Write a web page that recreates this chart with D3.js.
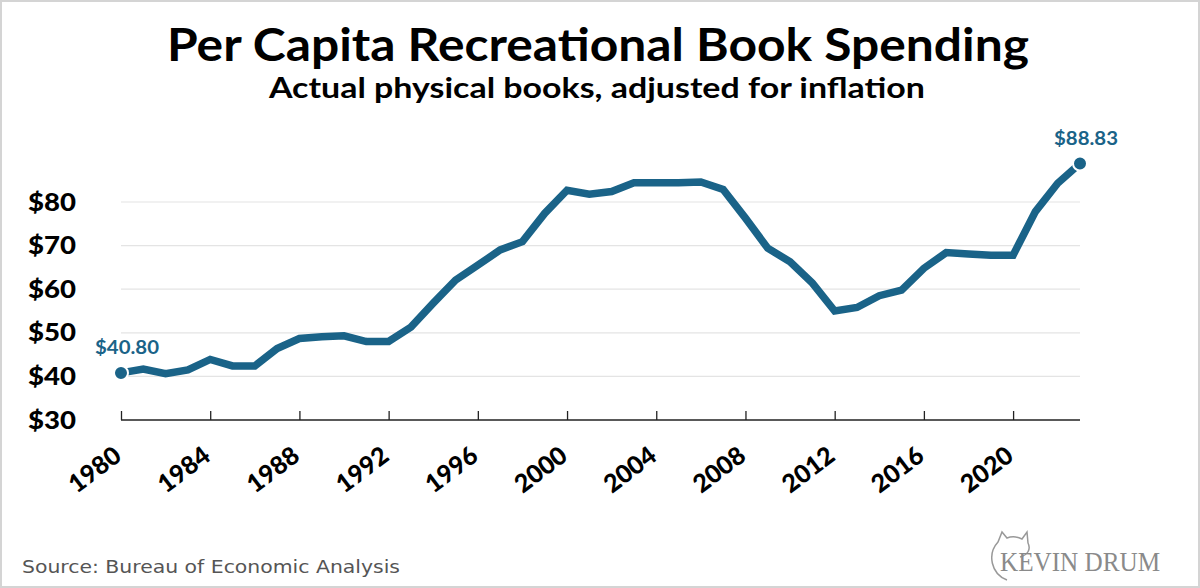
<!DOCTYPE html>
<html>
<head>
<meta charset="utf-8">
<script src="https://d3js.org/d3.v7.min.js"></script>
<style>
  body{margin:0;background:#fff;}
  svg text{font-family:"Lato","Noto Sans",sans-serif;}
</style>
</head>
<body>
<div id="chart"></div>
<script>

var years  = d3.range(1980, 2024);
var values = [
  40.80, 41.7, 40.6, 41.5, 43.9, 42.4, 42.4, 46.4, 48.7, 49.1,
  49.3, 48.0, 48.0, 51.3, 56.8, 62.1, 65.5, 69.0, 70.9, 77.4,
  82.7, 81.8, 82.4, 84.4, 84.4, 84.4, 84.6, 82.9, 76.3, 69.4,
  66.3, 61.4, 55.0, 55.8, 58.5, 59.8, 64.8, 68.4, 68.1, 67.8,
  67.8, 77.8, 84.3, 88.83
];
var yTicks = [30, 40, 50, 60, 70, 80];
var xTicks = [1980, 1984, 1988, 1992, 1996, 2000, 2004, 2008, 2012, 2016, 2020];

var title    = "Per Capita Recreational Book Spending";
var subtitle = "Actual physical books, adjusted for inflation";
var source   = "Source: Bureau of Economic Analysis";

var W = 1200, H = 588;
var lineColor = "#1a6388";

var svg = d3.select("#chart")
  .append("svg")
    .attr("width", W)
    .attr("height", H);

svg.append("rect")
  .attr("x", 1).attr("y", 1)
  .attr("width", W - 2).attr("height", H - 2)
  .attr("fill", "#fff")
  .attr("stroke", "#d4d4d4")
  .attr("stroke-width", 2);

// titles
svg.append("text")
  .attr("x", 598).attr("y", 61)
  .attr("text-anchor", "middle")
  .attr("font-size", 46)
  .attr("font-weight", 700)
  .attr("textLength", 862)
  .attr("lengthAdjust", "spacingAndGlyphs")
  .text(title);

svg.append("text")
  .attr("x", 597).attr("y", 98)
  .attr("text-anchor", "middle")
  .attr("font-size", 29)
  .attr("font-weight", 700)
  .attr("textLength", 656)
  .attr("lengthAdjust", "spacingAndGlyphs")
  .text(subtitle);

// scales
var x = d3.scaleLinear()
  .domain([1980, 2023])
  .range([121, 1080]);

var y = d3.scaleLinear()
  .domain([30, 80])
  .range([420, 202]);

// gridlines
svg.append("g")
  .attr("class", "grid")
  .selectAll("line")
  .data(yTicks.filter(function(d){return d > 30;}))
  .enter()
  .append("line")
    .attr("x1", x(1980))
    .attr("x2", x(2023))
    .attr("y1", function(d){return y(d);})
    .attr("y2", function(d){return y(d);})
    .attr("stroke", "#e4e4e4")
    .attr("stroke-width", 1.2);

// y labels
svg.append("g")
  .selectAll("text")
  .data(yTicks)
  .enter()
  .append("text")
    .attr("x", 76)
    .attr("y", function(d){return y(d);})
    .attr("dy", "0.36em")
    .attr("text-anchor", "end")
    .attr("font-size", 24)
    .attr("font-weight", 900)
    .attr("textLength", 48)
    .attr("lengthAdjust", "spacingAndGlyphs")
    .text(function(d){return "$" + d;});

// x axis
var xAxis = d3.axisTop(x)
  .tickValues(xTicks)
  .tickSize(9)
  .tickFormat("");

var gx = svg.append("g")
  .attr("transform", "translate(0," + y(30) + ")")
  .call(xAxis);
gx.select(".domain")
  .attr("d", "M" + x(1980) + ",0H" + x(2023))
  .attr("stroke", "#222")
  .attr("stroke-width", 1.5);
gx.selectAll(".tick line")
  .attr("stroke", "#222")
  .attr("stroke-width", 1.3);

svg.append("g")
  .selectAll("text")
  .data(xTicks)
  .enter()
  .append("text")
    .attr("transform", function(d){return "translate(" + (x(d) + 2) + "," + (y(30) + 39) + ") rotate(-37)";})
    .attr("text-anchor", "end")
    .attr("font-size", 25)
    .attr("font-weight", 900)
    .attr("textLength", 58)
    .attr("lengthAdjust", "spacingAndGlyphs")
    .text(function(d){return d;});

// line
var data = d3.zip(years, values);

var line = d3.line()
  .x(function(d){return x(d[0]);})
  .y(function(d){return y(d[1]);});

svg.append("path")
  .datum(data)
  .attr("d", line)
  .attr("fill", "none")
  .attr("stroke", lineColor)
  .attr("stroke-width", 7.5)
  .attr("stroke-linejoin", "miter");

// end points + labels
var ends = [data[0], data[data.length - 1]];

svg.append("g")
  .selectAll("circle")
  .data(ends)
  .enter()
  .append("circle")
    .attr("cx", function(d){return x(d[0]);})
    .attr("cy", function(d){return y(d[1]);})
    .attr("r", 7)
    .attr("fill", lineColor)
    .attr("stroke", "#fff")
    .attr("stroke-width", 2);

svg.append("g")
  .selectAll("text")
  .data(ends)
  .enter()
  .append("text")
    .attr("x", function(d){return x(d[0]) + 6;})
    .attr("y", function(d){return y(d[1]) - 19;})
    .attr("text-anchor", "middle")
    .attr("font-size", 19)
    .attr("font-weight", 700)
    .attr("fill", lineColor)
    .attr("textLength", 64)
    .attr("lengthAdjust", "spacingAndGlyphs")
    .text(function(d){return "$" + d[1].toFixed(2);});

// footer
svg.append("text")
  .attr("x", 22).attr("y", 573)
  .attr("font-size", 18)
  .attr("fill", "#555")
  .style("font-family", "'DejaVu Sans Condensed','DejaVu Sans',sans-serif")
  .attr("textLength", 378)
  .attr("lengthAdjust", "spacingAndGlyphs")
  .text(source);

var logo = svg.append("g")
  .attr("transform", "translate(983,528)");
logo.append("path")
  .attr("d", "M24,52 C8,46 4,26 15,14 L19,4 L24,10 C29,8 35,9 39,11 L44,4 L45,15 C48,21 45,27 37,29")
  .attr("fill", "none")
  .attr("stroke", "#999")
  .attr("stroke-width", 1.5);
logo.append("text")
  .attr("x", 17).attr("y", 43)
  .attr("font-size", 28)
  .attr("fill", "#8a8a8a")
  .style("font-family", "'Liberation Serif',serif")
  .attr("textLength", 160)
  .attr("lengthAdjust", "spacingAndGlyphs")
  .text("KEVIN DRUM");

</script>
</body>
</html>
